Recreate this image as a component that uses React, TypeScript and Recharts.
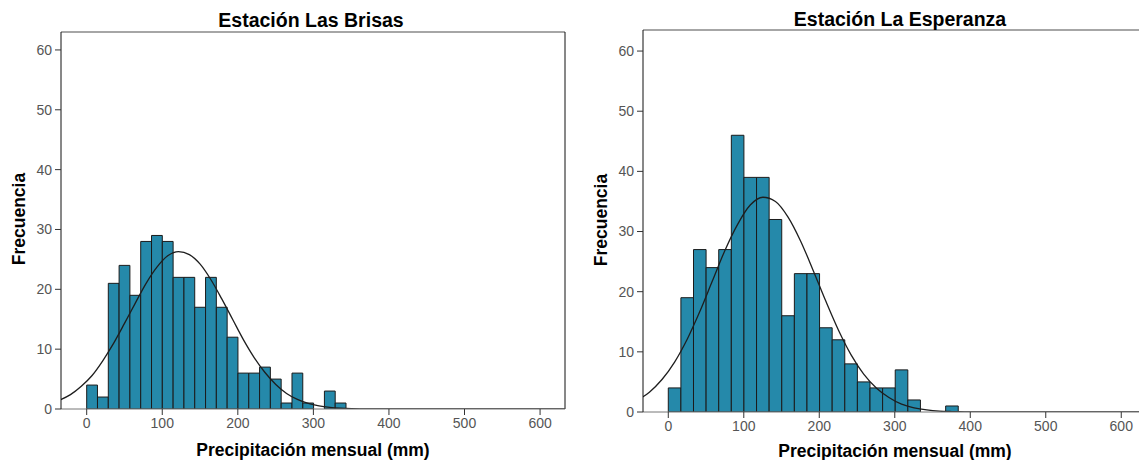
import React from 'react';
import { ComposedChart, Bar, Line, XAxis, YAxis, ReferenceLine } from 'recharts';

const FONT = 'Arial, "Liberation Sans", sans-serif';

// Estación Las Brisas: bins start at 0 mm
const brisasBinWidth = 14.3;
const brisasCounts = [4, 2, 21, 24, 19, 28, 29, 28, 22, 22, 17, 22, 17, 12, 6, 6, 7, 5, 1, 6, 1, 0, 3, 1];
// normal curve, read at bin centres starting 3 bins left of 0
const brisasCurveStart = -3;
const brisasCurve = [
  1.5, 2.4, 3.8, 5.6, 8.1, 11.0, 14.3, 17.7, 21.0, 23.7, 25.6, 26.3, 25.8, 24.2, 21.6, 18.4,
  15.0, 11.6, 8.6, 6.1, 4.1, 2.6, 1.6, 0.95, 0.53, 0.28, 0.14, 0.06, 0.03, 0.01, 0, 0,
  0, 0, 0, 0, 0, 0, 0, 0, 0, 0, 0, 0, 0, 0, 0, 0,
];

// Estación La Esperanza
const esperanzaBinWidth = 16.7;
const esperanzaCounts = [4, 19, 27, 24, 27, 46, 39, 39, 32, 16, 23, 23, 14, 12, 8, 5, 4, 4, 7, 2, 0, 0, 1];
const esperanzaCurveStart = -3;
const esperanzaCurve = [
  1.9, 3.3, 5.4, 8.3, 12.1, 16.7, 21.8, 26.9, 31.2, 34.4, 35.7, 35.0, 32.4, 28.4, 23.5, 18.4,
  13.6, 9.5, 6.3, 4.0, 2.4, 1.3, 0.7, 0.35, 0.15, 0.07, 0.03, 0, 0, 0, 0, 0,
  0, 0, 0, 0, 0, 0, 0, 0, 0,
];

const xTicks = [0, 100, 200, 300, 400, 500, 600];
const yTicks = [0, 10, 20, 30, 40, 50, 60];

type Row = { x: number; count: number | null; curve: number | null };

function buildRows(binWidth: number, counts: number[], curveStart: number, curve: number[]): Row[] {
  const rows: Row[] = [];
  for (let i = 0; i < curve.length; i++) {
    const k = curveStart + i;
    rows.push({
      x: (k + 0.5) * binWidth,
      count: k >= 0 && k < counts.length ? counts[k] : null,
      curve: curve[i],
    });
  }
  return rows;
}

const Y_AXIS_W = 40;
const X_AXIS_H = 30;

interface HistProps {
  width: number;
  height: number;
  margin: { top: number; right: number; bottom: number; left: number };
  xDomain: [number, number];
  yDomain: [number, number];
  rows: Row[];
  binWidth: number;
  rightBorder: boolean;
}

const Histogram: React.FC<HistProps> = ({ width, height, margin, xDomain, yDomain, rows, binWidth, rightBorder }) => {
  const plotW = width - margin.left - margin.right - Y_AXIS_W;
  // a hair under the bin width, otherwise recharts shrinks bars to 90%
  const barSize = (plotW / (xDomain[1] - xDomain[0])) * binWidth - 0.02;
  const tickStyle = { fill: '#555', fontSize: 14, fontFamily: FONT };
  return (
    <ComposedChart width={width} height={height} data={rows} margin={margin} barGap={0} barCategoryGap={0}>
      <XAxis
        dataKey="x"
        type="number"
        domain={xDomain}
        allowDataOverflow
        ticks={xTicks}
        height={X_AXIS_H}
        tick={tickStyle}
        tickSize={6}
        tickMargin={3}
        axisLine={{ stroke: '#777' }}
        tickLine={{ stroke: '#333' }}
      />
      <YAxis
        type="number"
        domain={yDomain}
        allowDataOverflow
        ticks={yTicks}
        width={Y_AXIS_W}
        tick={tickStyle}
        tickSize={6}
        tickMargin={3}
        axisLine={{ stroke: '#111' }}
        tickLine={{ stroke: '#333' }}
      />
      <ReferenceLine y={yDomain[1]} stroke="#888" strokeWidth={1.5} />
      {rightBorder && <ReferenceLine x={xDomain[1]} stroke="#111" />}
      <Bar
        dataKey="count"
        fill="#2589AA"
        stroke="#1b1b1b"
        strokeWidth={1}
        barSize={barSize}
        isAnimationActive={false}
      />
      <Line
        dataKey="curve"
        type="monotone"
        stroke="#1e1e1e"
        strokeWidth={1.3}
        dot={false}
        connectNulls
        isAnimationActive={false}
      />
    </ComposedChart>
  );
};

const textBase: React.CSSProperties = {
  position: 'absolute',
  fontFamily: FONT,
  fontWeight: 'bold',
  color: '#000',
  whiteSpace: 'nowrap',
  transform: 'translate(-50%, -50%)',
};

export default function App() {
  const brisasRows = buildRows(brisasBinWidth, brisasCounts, brisasCurveStart, brisasCurve);
  const esperanzaRows = buildRows(esperanzaBinWidth, esperanzaCounts, esperanzaCurveStart, esperanzaCurve);

  return (
    <div style={{ position: 'absolute', left: 0, top: 0, width: 1139, height: 460, background: '#fff', overflow: 'hidden' }}>
      <div style={{ position: 'absolute', left: 0, top: 0 }}>
        <Histogram
          width={580}
          height={460}
          margin={{ top: 32, right: 15, bottom: 21, left: 21 }}
          xDomain={[-34, 633]}
          yDomain={[0, 63]}
          rows={brisasRows}
          binWidth={brisasBinWidth}
          rightBorder
        />
      </div>
      <div style={{ position: 'absolute', left: 580, top: 0 }}>
        <Histogram
          width={559}
          height={460}
          margin={{ top: 30, right: 0, bottom: 18, left: 23 }}
          xDomain={[-33.5, 623.5]}
          yDomain={[0, 63.5]}
          rows={esperanzaRows}
          binWidth={esperanzaBinWidth}
          rightBorder={false}
        />
      </div>

      <div style={{ ...textBase, left: 311, top: 20, fontSize: 19.5 }}>Estación Las Brisas</div>
      <div style={{ ...textBase, left: 900, top: 19, fontSize: 19.5 }}>Estación La Esperanza</div>

      <div style={{ ...textBase, left: 313, top: 450, fontSize: 17.5 }}>Precipitación mensual (mm)</div>
      <div style={{ ...textBase, left: 895, top: 451, fontSize: 17.5 }}>Precipitación mensual (mm)</div>

      <div style={{ ...textBase, left: 19, top: 219, fontSize: 17.5, transform: 'translate(-50%, -50%) rotate(-90deg)' }}>
        Frecuencia
      </div>
      <div style={{ ...textBase, left: 601, top: 220, fontSize: 17.5, transform: 'translate(-50%, -50%) rotate(-90deg)' }}>
        Frecuencia
      </div>
    </div>
  );
}
